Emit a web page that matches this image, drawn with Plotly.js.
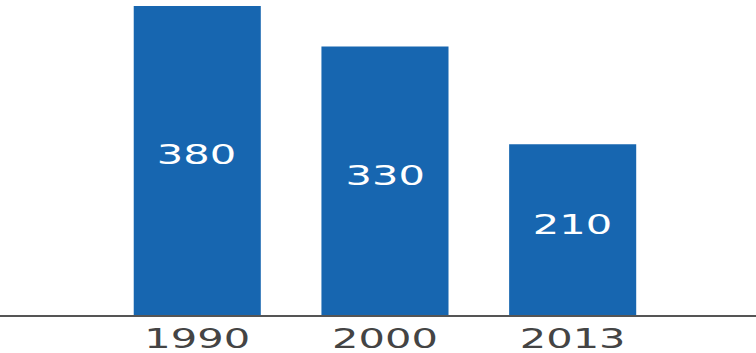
<!DOCTYPE html>
<html>
<head>
<meta charset="utf-8">
<script src="https://cdn.plot.ly/plotly-3.0.1.min.js"></script>
<style>
html,body{margin:0;padding:0;overflow:hidden;background:#fff;}
#chart{width:472.5px;height:353px;transform:scaleX(1.6);transform-origin:0 0;}
</style>
</head>
<body>
<div id="chart"></div>
<script>
const years = ["1990", "2000", "2013"];
const values = [380, 330, 210];
const labels = ["380", "330", "210"];

const trace = {
  type: "bar",
  x: years,
  y: values,
  marker: {color: "#1766b0"},
  hoverinfo: "none"
};

const annotations = years.map((yr, i) => ({
  x: i,
  y: values[i] / 2,
  xref: "x",
  yref: "y",
  text: labels[i],
  showarrow: false,
  yshift: 5,
  font: {family: "DejaVu Sans", size: 26, color: "#ffffff"}
}));

const layout = {
  width: 472.5,
  height: 353,
  margin: {l: 0, r: 0, t: 0, b: 38},
  paper_bgcolor: "#ffffff",
  plot_bgcolor: "#ffffff",
  showlegend: false,
  bargap: 0.323,
  annotations: annotations,
  xaxis: {
    type: "category",
    range: [-1.051, 2.981],
    showline: true,
    linecolor: "#555555",
    linewidth: 2,
    ticks: "",
    showgrid: false,
    zeroline: false,
    tickfont: {family: "DejaVu Sans", size: 26, color: "#444444"},
    fixedrange: true
  },
  yaxis: {
    range: [0, 387.3],
    visible: false,
    showgrid: false,
    zeroline: false,
    fixedrange: true
  }
};

Plotly.newPlot("chart", [trace], layout, {displayModeBar: false, staticPlot: true});
</script>
</body>
</html>
